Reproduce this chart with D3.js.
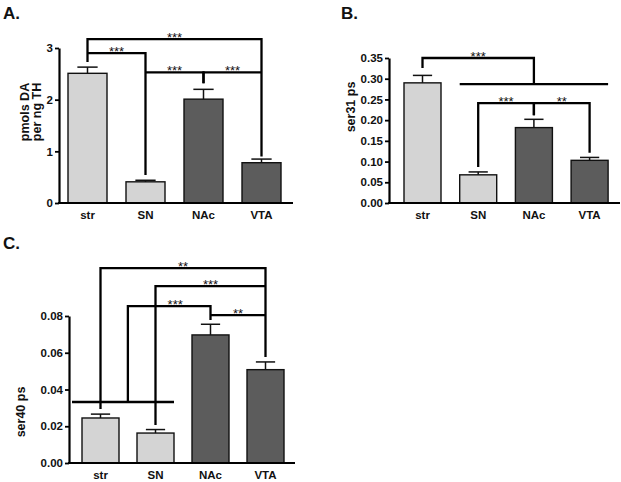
<!DOCTYPE html>
<html>
<head>
<meta charset="utf-8">
<script src="https://cdn.jsdelivr.net/npm/d3@7"></script>
<style>
  html, body { margin: 0; padding: 0; background: #fff; }
  svg { display: block; }
  text { font-family: "Liberation Sans", Arial, sans-serif; font-weight: bold; fill: #111; }
</style>
</head>
<body>
<svg id="chart" width="621" height="482"></svg>
<script>
// ---------- DATA ----------
const categories = ["str", "SN", "NAc", "VTA"];
const barShade = ["light", "light", "dark", "dark"];

const valuesA = [2.51, 0.41, 2.01, 0.78];
const errorsA = [0.12, 0.03, 0.19, 0.07];
const ticksA = [0, 1, 2, 3];

const valuesB = [0.290, 0.068, 0.182, 0.103];
const errorsB = [0.018, 0.007, 0.020, 0.007];
const ticksB = [0, 0.05, 0.10, 0.15, 0.20, 0.25, 0.30, 0.35];

const valuesC = [0.0245, 0.0163, 0.0697, 0.0508];
const errorsC = [0.0021, 0.0019, 0.0058, 0.0042];
const ticksC = [0, 0.02, 0.04, 0.06, 0.08];

// significance brackets: a/b categories, y levels in data units, stars
const bracketsA = [
  { a: "str", b: "VTA", y: 3.17, ya: 2.73, yb: 0.90, stars: "***" },
  { a: "str", b: "SN", y: 2.90, ya: 2.90, yb: 0.54, stars: "***" },
  { a: "SN", b: "NAc", y: 2.53, ya: 2.53, yb: 2.32, stars: "***" },
  { a: "NAc", b: "VTA", y: 2.53, ya: 2.32, yb: 2.53, stars: "***" }
];
const bracketsB = [
  { a: "str", b: "NAc", y: 0.350, ya: 0.326, yb: 0.287, stars: "***" },
  { a: "SN", ao: -0.5, b: "VTA", bo: 0.5, y: 0.287, ya: 0.287, yb: 0.287, stars: "" },
  { a: "SN", b: "NAc", y: 0.241, ya: 0.087, yb: 0.212, stars: "***" },
  { a: "NAc", b: "VTA", y: 0.241, ya: 0.212, yb: 0.121, stars: "**" }
];
const bracketsC = [
  { a: "str", b: "VTA", y: 0.1061, ya: 0.0294, yb: 0.0577, stars: "**" },
  { a: "SN", b: "VTA", y: 0.0963, ya: 0.0207, yb: 0.0963, stars: "***" },
  { a: "str", ao: 0.74, b: "NAc", y: 0.0854, ya: 0.0332, yb: 0.0778, stars: "***", so: 6 },
  { a: "NAc", b: "VTA", y: 0.0805, ya: 0.0805, yb: 0.0805, stars: "**" },
  { a: "str", ao: -0.77, b: "SN", bo: 0.5, y: 0.0332, ya: 0.0332, yb: 0.0332, stars: "" }
];

// ---------- DRAW ----------
const svg = d3.select("#chart");
const fillFor = { light: "#d4d4d4", dark: "#5c5c5c" };

function panel(cfg) {
  const g = svg.append("g");
  const step = cfg.step, bw = cfg.bw;
  const po = (cfg.barStart - cfg.axisX) / step;
  const pi = 1 - bw / step;
  const x = d3.scaleBand().domain(categories)
    .range([cfg.axisX, cfg.axisX + step * (categories.length - pi + 2 * po)])
    .paddingInner(pi).paddingOuter(po);
  const y = d3.scaleLinear().domain(cfg.domain).range([cfg.yBottom, cfg.yTop]);
  const cx = c => x(c) + x.bandwidth() / 2;

  // bars
  g.selectAll("rect.bar").data(cfg.values).join("rect")
    .attr("x", (d, i) => x(categories[i]))
    .attr("y", d => y(d))
    .attr("width", x.bandwidth())
    .attr("height", d => y(0) - y(d))
    .attr("fill", (d, i) => fillFor[barShade[i]])
    .attr("stroke", "#111").attr("stroke-width", 1.4);

  // error bars
  const capW = x.bandwidth() * 0.52;
  cfg.values.forEach((v, i) => {
    const c = cx(categories[i]);
    g.append("line").attr("x1", c).attr("x2", c)
      .attr("y1", y(v)).attr("y2", y(v + cfg.errors[i]))
      .attr("stroke", "#111").attr("stroke-width", 1.5);
    g.append("line").attr("x1", c - capW / 2).attr("x2", c + capW / 2)
      .attr("y1", y(v + cfg.errors[i])).attr("y2", y(v + cfg.errors[i]))
      .attr("stroke", "#111").attr("stroke-width", 1.5);
  });

  // y axis
  const ya = g.append("g").attr("transform", `translate(${cfg.axisX},0)`)
    .call(d3.axisLeft(y).tickValues(cfg.ticks).tickFormat(d3.format(cfg.fmt))
      .tickSize(4).tickPadding(2).tickSizeOuter(0));
  ya.select(".domain").attr("stroke", "#000").attr("stroke-width", 2.2);
  ya.selectAll(".tick line").attr("stroke", "#000").attr("stroke-width", 1.8);
  ya.selectAll(".tick text").style("font-size", "11.5px").style("font-weight", "bold")
    .style("font-family", "'Liberation Sans', Arial, sans-serif").attr("fill", "#111");

  // x axis
  const xa = g.append("g").attr("transform", `translate(0,${cfg.yBottom})`)
    .call(d3.axisBottom(x).tickSize(0).tickPadding(cfg.labelPad).tickSizeOuter(0));
  xa.select(".domain").attr("d", `M${cfg.axisX - 1},0H${cfg.xEnd}`)
    .attr("stroke", "#000").attr("stroke-width", 2.2);
  xa.selectAll(".tick text").style("font-size", "11.5px").style("font-weight", "bold")
    .style("font-family", "'Liberation Sans', Arial, sans-serif").attr("fill", "#111");

  // brackets
  cfg.brackets.forEach(b => {
    const xa_ = cx(b.a) + (b.ao || 0) * x.bandwidth();
    const xb_ = cx(b.b) + (b.bo || 0) * x.bandwidth();
    const path = `M${xa_},${y(b.ya)}V${y(b.y)}H${xb_}V${y(b.yb)}`;
    g.append("path").attr("d", path).attr("fill", "none")
      .attr("stroke", "#000").attr("stroke-width", 2.3).attr("stroke-linejoin", "miter");
    if (b.stars) {
      g.append("text").attr("x", (xa_ + xb_) / 2 + (b.so || 0)).attr("y", y(b.y) + 2.5)
        .attr("text-anchor", "middle").style("font-size", "13px").style("font-weight", "normal")
        .attr("fill", "#333").text(b.stars);
    }
  });

  // y title
  cfg.title.forEach((t, i) => {
    g.append("text")
      .attr("transform", `translate(${cfg.titleX[i]},${cfg.titleY}) rotate(-90)`)
      .attr("text-anchor", "middle").style("font-size", "12.5px").text(t);
  });

  // panel label
  svg.append("text").attr("x", cfg.label[1]).attr("y", cfg.label[2])
    .style("font-size", "17px").text(cfg.label[0]);
}

panel({
  values: valuesA, errors: errorsA, ticks: ticksA, domain: [0, 3], fmt: "d",
  axisX: 59, yBottom: 203, yTop: 48, barStart: 68, step: 58, bw: 39, xEnd: 293,
  labelPad: 8, brackets: bracketsA,
  title: ["pmols DA", "per ng TH"], titleX: [29, 41], titleY: 112,
  label: ["A.", 3, 19]
});
panel({
  values: valuesB, errors: errorsB, ticks: ticksB, domain: [0, 0.35], fmt: ".2f",
  axisX: 389, yBottom: 203, yTop: 58, barStart: 404, step: 55.7, bw: 37, xEnd: 620,
  labelPad: 8, brackets: bracketsB,
  title: ["ser31 ps"], titleX: [355], titleY: 107,
  label: ["B.", 341, 19]
});
panel({
  values: valuesC, errors: errorsC, ticks: ticksC, domain: [0, 0.08], fmt: ".2f",
  axisX: 69, yBottom: 463, yTop: 316, barStart: 82, step: 55, bw: 37, xEnd: 295,
  labelPad: 8, brackets: bracketsC,
  title: ["ser40 ps"], titleX: [25], titleY: 412,
  label: ["C.", 3, 249]
});
</script>
</body>
</html>
